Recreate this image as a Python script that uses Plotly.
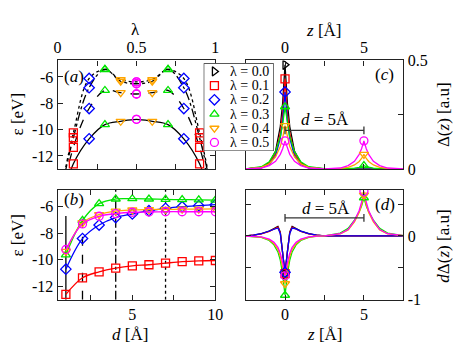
import plotly.graph_objects as go

# ---------------- data ----------------
lam_labels = ["λ = 0.0", "λ = 0.1", "λ = 0.2", "λ = 0.3", "λ = 0.4", "λ = 0.5"]
lambdas = [0.0, 0.1, 0.2, 0.3, 0.4, 0.5]
colors = ["#000000", "#ff0000", "#0000ff", "#00e600", "#ffa500", "#ff00ff"]
symbols = ["triangle-right-open", "square-open", "diamond-open",
           "triangle-up-open", "triangle-down-open", "circle-open"]

# panel (b): eigenvalue vs separation d, per lambda
d_values = [1, 2, 3, 4, 5, 6, 7, 8, 9, 10]
eps_l01 = [-12.6, -11.35, -10.9, -10.62, -10.45, -10.37, -10.25, -10.14, -10.08, -10.05]
eps_l02 = [-10.7, -8.4, -7.38, -6.82, -6.55, -6.3, -6.12, -6.0, -5.92, -5.85]
eps_l03 = [-9.62, -7.03, -5.77, -5.42, -5.4, -5.42, -5.45, -5.47, -5.48, -5.5]
eps_l04 = [-9.37, -7.2, -6.6, -6.33, -6.25, -6.22, -6.2, -6.19, -6.18, -6.17]
eps_l05 = [-9.22, -7.3, -6.72, -6.52, -6.42, -6.4, -6.38, -6.38, -6.38, -6.38]
eps_by_lambda = {0.1: eps_l01, 0.2: eps_l02, 0.3: eps_l03, 0.4: eps_l04, 0.5: eps_l05}

# panel (a): curves eps(lambda) for selected d (mirror symmetric in lambda)
d_curves = [1, 2, 4, 7]
d_dash = ["solid", "dash", "dashdot", "dot"]
eps_at_lambda0 = [-16.5, -16.5, -16.0, -16.0]   # below the visible range
guide_top = [-6.7, -6.7, -4.75, -4.75]

# panel (c): density Delta(z), d = 5 A
d_example = 5.0
zc = [-2.5, -1.5, -1, -0.6, -0.3, -0.15, 0, 0.15, 0.3, 0.6, 1, 1.5, 2.5,
      3.5, 4, 4.4, 4.7, 4.85, 5, 5.15, 5.3, 5.6, 6, 6.5, 7.5]
dens_l00 = [0.0005, 0.0074, 0.029, 0.083, 0.196, 0.304, 0.48, 0.304, 0.196, 0.083, 0.029, 0.0074, 0.0005,
            0, 0, 0, 0, 0, 0, 0, 0, 0, 0, 0, 0]
dens_l01 = [0.0004, 0.0063, 0.025, 0.071, 0.166, 0.257, 0.415, 0.257, 0.166, 0.071, 0.025, 0.0063, 0.0004,
            0, 0, 0, 0, 0, 0, 0, 0, 0, 0, 0, 0]
dens_l02 = [0.0004, 0.0054, 0.021, 0.06, 0.142, 0.22, 0.355, 0.22, 0.142, 0.06, 0.021, 0.0054, 0.0004,
            0, 0, 0, 0, 0, 0.001, 0, 0, 0, 0, 0, 0]
dens_l03 = [0.0015, 0.011, 0.034, 0.08, 0.149, 0.207, 0.287, 0.207, 0.149, 0.08, 0.034, 0.011, 0.0016,
            0.0006, 0.0019, 0.0045, 0.0083, 0.0115, 0.016, 0.0115, 0.0083, 0.0045, 0.0019, 0.0006, 0.0001]
dens_l04 = [0.001, 0.008, 0.024, 0.056, 0.104, 0.144, 0.2, 0.144, 0.104, 0.056, 0.024, 0.008, 0.0013,
            0.003, 0.008, 0.019, 0.035, 0.049, 0.068, 0.049, 0.035, 0.019, 0.008, 0.003, 0.0003]
dens_l05 = [0.0007, 0.005, 0.016, 0.036, 0.068, 0.094, 0.13, 0.094, 0.068, 0.036, 0.016, 0.005, 0.0014,
            0.005, 0.016, 0.036, 0.068, 0.094, 0.13, 0.094, 0.068, 0.036, 0.016, 0.005, 0.0007]
dens = [dens_l00, dens_l01, dens_l02, dens_l03, dens_l04, dens_l05]

# panel (d): density difference dDelta(z)
zd = [-2.5, -2, -1.5, -1, -0.7, -0.45, -0.3, -0.15, 0, 0.15, 0.3, 0.45, 0.7, 1, 1.5, 2, 2.5,
      3.5, 4, 4.4, 4.7, 4.85, 5, 5.15, 5.3, 5.6, 6, 6.5, 7.5]
ddens_l00 = [0.003, 0.012, 0.035, 0.075, 0.115, 0.15, 0.06, -0.25, -0.6, -0.25, 0.06, 0.15, 0.115, 0.075, 0.035, 0.012, 0.003,
             0, 0, 0, 0, 0, 0, 0, 0, 0, 0, 0, 0]
ddens_l01 = [0.003, 0.011, 0.032, 0.07, 0.11, 0.14, 0.05, -0.25, -0.59, -0.25, 0.05, 0.14, 0.11, 0.07, 0.032, 0.011, 0.003,
             0, 0, 0, 0, 0, 0, 0, 0, 0, 0, 0, 0]
ddens_l02 = [0.003, 0.012, 0.035, 0.075, 0.11, 0.125, 0.04, -0.25, -0.57, -0.25, 0.04, 0.125, 0.11, 0.075, 0.035, 0.012, 0.003,
             0, 0, 0, 0, 0, 0, 0, 0, 0, 0, 0, 0]
ddens_l03 = [-0.001, -0.006, -0.022, -0.07, -0.14, -0.25, -0.38, -0.6, -0.93, -0.6, -0.38, -0.25, -0.14, -0.07, -0.022, -0.004, 0.002,
             0.045, 0.12, 0.25, 0.38, 0.47, 0.6, 0.47, 0.38, 0.25, 0.12, 0.045, 0.006]
ddens_l04 = [-0.001, -0.005, -0.018, -0.06, -0.12, -0.21, -0.32, -0.5, -0.75, -0.5, -0.32, -0.21, -0.12, -0.06, -0.018, -0.004, 0.001,
             0.033, 0.095, 0.22, 0.37, 0.49, 0.64, 0.49, 0.37, 0.22, 0.095, 0.033, 0.004]
ddens_l05 = [-0.001, -0.004, -0.015, -0.05, -0.1, -0.18, -0.27, -0.42, -0.625, -0.42, -0.27, -0.18, -0.1, -0.05, -0.015, -0.003, 0.001,
             0.035, 0.1, 0.24, 0.4, 0.53, 0.7, 0.53, 0.4, 0.24, 0.1, 0.035, 0.004]
ddens = [ddens_l00, ddens_l01, ddens_l02, ddens_l03, ddens_l04, ddens_l05]

# z positions where the curves carry symbols
marker_z = [[0], [0], [0], [0, 5], [0, 5], [0, 5]]

# ---------------- figure ----------------
FONT = "Liberation Serif, Times New Roman, serif"
W, H = 463, 364
LW = 1.3
MS = 8


def px_x(p):
    return p / W


def px_y(p):
    return 1 - p / H


def mk(i):
    return dict(symbol=symbols[i], color=colors[i], size=MS, line=dict(width=LW, color=colors[i]))


fig = go.Figure()

# (a) curves
lam_full = lambdas + [round(1 - l, 2) for l in reversed(lambdas[:-1])]
for k, d in enumerate(d_curves):
    idx = d_values.index(d)
    half = [eps_at_lambda0[k]] + [eps_by_lambda[l][idx] for l in lambdas[1:]]
    yv = half + half[-2::-1]
    fig.add_trace(go.Scatter(x=lam_full, y=yv, mode="lines",
                             line=dict(color="black", width=LW, dash=d_dash[k], shape="spline"),
                             xaxis="x", yaxis="y", hoverinfo="skip"))
# (a) markers
for i, l in enumerate(lambdas[1:], start=1):
    xs, ys = [], []
    for d in d_curves:
        v = eps_by_lambda[l][d_values.index(d)]
        xs += [l, round(1 - l, 2)]
        ys += [v, v]
    fig.add_trace(go.Scatter(x=xs, y=ys, mode="markers", marker=mk(i), xaxis="x", yaxis="y"))

# (b)
for i, l in enumerate(lambdas[1:], start=1):
    fig.add_trace(go.Scatter(x=d_values, y=eps_by_lambda[l], mode="lines+markers",
                             line=dict(color=colors[i], width=LW, shape="spline"),
                             marker=mk(i), xaxis="x2", yaxis="y2"))

# (c) and (d)
for series, zgrid, xa, ya in [(dens, zc, "x3", "y3"), (ddens, zd, "x4", "y4")]:
    for i in range(len(lambdas)):
        fig.add_trace(go.Scatter(x=zgrid, y=series[i], mode="lines", line=dict(color=colors[i], width=LW),
                                 xaxis=xa, yaxis=ya))
    for i in range(len(lambdas)):
        mx = marker_z[i]
        my = [series[i][zgrid.index(z)] for z in mx]
        fig.add_trace(go.Scatter(x=mx, y=my, mode="markers", marker=mk(i), xaxis=xa, yaxis=ya))

# legend (auxiliary axes)
leg_y = list(range(len(lam_labels)))
for i in range(len(lam_labels)):
    fig.add_trace(go.Scatter(x=[0.153], y=[leg_y[i]], mode="markers", marker=mk(i), xaxis="x5", yaxis="y5"))

axis_common = dict(showline=True, linecolor="#222", linewidth=1.2, mirror="allticks", ticks="inside",
                   ticklen=5, tickwidth=1, tickcolor="#222", showgrid=False, zeroline=False,
                   tickfont=dict(family=FONT, size=16, color="black"))

dom_x_left = [px_x(55), px_x(217)]
dom_x_right = [px_x(248), px_x(410)]
dom_y_top = [px_y(169), px_y(55)]
dom_y_bot = [px_y(306), px_y(191)]

eps_ticks = [-12, -10, -8, -6]
eps_text = ["-12", "-10", "-8", "-6"]

fig.update_layout(
    width=W, height=H, margin=dict(l=0, r=0, t=0, b=0),
    paper_bgcolor="white", plot_bgcolor="white", showlegend=False,
    font=dict(family=FONT, size=16, color="black"),
    xaxis=dict(axis_common, domain=dom_x_left, range=[0, 1], side="top", anchor="y",
               tickvals=[0, 0.25, 0.5, 0.75, 1], ticktext=["0", "", "0.5", "", "1"]),
    yaxis=dict(axis_common, domain=dom_y_top, range=[-13, -4.75], anchor="x",
               tickvals=eps_ticks, ticktext=eps_text),
    xaxis2=dict(axis_common, domain=dom_x_left, range=[0.5, 10], anchor="y2",
                tickvals=[2.5, 5, 7.5, 10], ticktext=["", "5", "", "10"]),
    yaxis2=dict(axis_common, domain=dom_y_bot, range=[-13, -4.75], anchor="x2",
                tickvals=eps_ticks, ticktext=eps_text),
    xaxis3=dict(axis_common, domain=dom_x_right, range=[-2.5, 7.5], side="top", anchor="y3",
                tickvals=[0, 2.5, 5], ticktext=["0", "", "5"]),
    yaxis3=dict(axis_common, domain=dom_y_top, range=[0, 0.5], side="right", anchor="x3",
                tickvals=[0, 0.25, 0.5], ticktext=["0", "", "0.5"]),
    xaxis4=dict(axis_common, domain=dom_x_right, range=[-2.5, 7.5], anchor="y4",
                tickvals=[0, 2.5, 5], ticktext=["0", "", "5"]),
    yaxis4=dict(axis_common, domain=dom_y_bot, range=[-1, 0.72], side="right", anchor="x4",
                tickvals=[-1, -0.5, 0, 0.5], ticktext=["-1", "", "0", ""]),
    xaxis5=dict(domain=[px_x(205), px_x(277)], range=[0, 1], visible=False, anchor="y5", fixedrange=True),
    yaxis5=dict(domain=[px_y(150), px_y(58)], range=[5.6, -0.57], visible=False, anchor="x5", fixedrange=True),
)

shapes = []
# guide lines in (b)
for k, d in enumerate(d_curves):
    shapes.append(dict(type="line", xref="x2", yref="y2", x0=d, x1=d, y0=-13, y1=guide_top[k],
                       line=dict(color="black", width=LW, dash=d_dash[k]), layer="below"))
# d = 5 A brackets
for xa, ya, yl, cap in [("x3", "y3", 0.178, 0.018), ("x4", "y4", 0.285, 0.06)]:
    shapes.append(dict(type="line", xref=xa, yref=ya, x0=0, x1=d_example, y0=yl, y1=yl,
                       line=dict(color="#333", width=1.3)))
    for xx in [0, d_example]:
        shapes.append(dict(type="line", xref=xa, yref=ya, x0=xx, x1=xx, y0=yl - cap, y1=yl + cap,
                           line=dict(color="#333", width=1.3)))
# legend box
shapes.append(dict(type="rect", xref="x5", yref="y5", x0=0, x1=1, y0=5.6, y1=-0.57,
                   fillcolor="white", line=dict(color="#222", width=1.2), layer="below"))
fig.update_layout(shapes=shapes)

ann = []
for i, lab in enumerate(lam_labels):
    ann.append(dict(text=lab, xref="x5", yref="y5", x=0.347, y=leg_y[i], xanchor="left", yanchor="middle",
                    showarrow=False, font=dict(family=FONT, size=14)))


def a(text, x, y, size=17, angle=0, yanchor="middle"):
    ann.append(dict(text=text, xref="paper", yref="paper", x=px_x(x), y=px_y(y), xanchor="center",
                    yanchor=yanchor, showarrow=False, textangle=angle, font=dict(family=FONT, size=size)))


a("λ", 135, 35, yanchor="bottom")
a("<i>z</i> [Å]", 328, 36, yanchor="bottom")
a("ε [eV]", 14, 111, angle=-90)
a("ε [eV]", 14, 238, angle=-90)
a("<i>d</i> [Å]", 129, 342)
a("<i>z</i> [Å]", 329, 342)
a("Δ(<i>z</i>) [a.u]", 451, 112, angle=-90)
a("<i>d</i>Δ(<i>z</i>) [a.u]", 451, 250, angle=-90)
a("(<i>a</i>)", 72, 72)
a("(<i>b</i>)", 72, 201)
a("(<i>c</i>)", 391, 70)
a("(<i>d</i>)", 391, 206)
ann.append(dict(text="<i>d</i> = 5Å", xref="x3", yref="y3", x=2.55, y=0.226, showarrow=False,
                xanchor="center", yanchor="middle", font=dict(family=FONT, size=17)))
ann.append(dict(text="<i>d</i> = 5Å", xref="x4", yref="y4", x=2.6, y=0.435, showarrow=False,
                xanchor="center", yanchor="middle", font=dict(family=FONT, size=17)))
fig.update_layout(annotations=ann)

fig.write_html("out.html", config={"displayModeBar": False},
               post_script="document.body.style.margin='0';document.body.style.padding='0';")
